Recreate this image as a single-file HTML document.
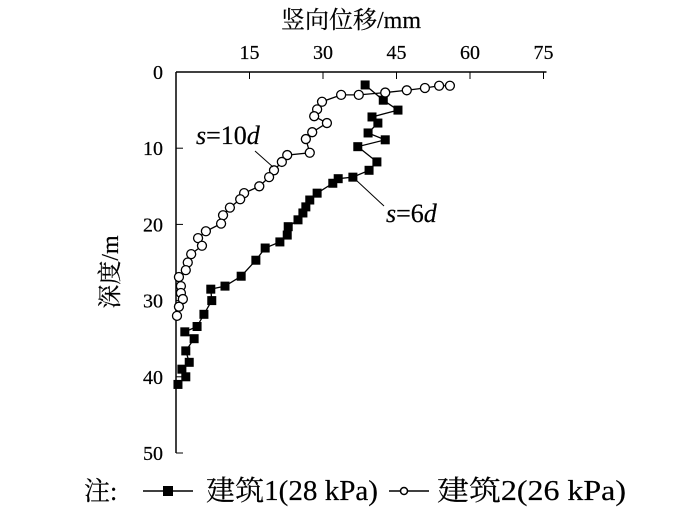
<!DOCTYPE html>
<html><head><meta charset="utf-8"><style>
html,body{margin:0;padding:0;background:#fff;}
svg{display:block;font-family:"Liberation Serif","Noto Serif CJK SC",serif;}
text{stroke:#000;stroke-width:0.2;}
</style></head><body>
<svg id="chart" width="700" height="507" viewBox="0 0 700 507">
<text x="351" y="28" text-anchor="middle" font-size="24">竖向位移/mm</text>
<text x="118" y="272" text-anchor="middle" font-size="24" transform="rotate(-90 118 272)">深度/m</text>
<g id="axes"></g>
<g id="series"></g>
<text x="196" y="144" font-size="26" font-style="italic">s<tspan font-style="normal">=10</tspan>d</text>
<line x1="255" y1="151" x2="273" y2="167" stroke="#000" stroke-width="1"/>
<text x="386" y="222" font-size="26" font-style="italic">s<tspan font-style="normal">=6</tspan>d</text>
<line x1="356" y1="180" x2="384" y2="206" stroke="#000" stroke-width="1"/>
<g>
<text x="84" y="500" font-size="26">注:</text>
<line x1="143" y1="491" x2="193" y2="491" stroke="#000" stroke-width="1.5"/>
<rect x="163" y="486" width="10" height="10" fill="#000"/>
<text x="206" y="500" font-size="28" textLength="172" lengthAdjust="spacingAndGlyphs">建筑1(28 kPa)</text>
<line x1="389" y1="491" x2="429" y2="491" stroke="#000" stroke-width="1.5"/>
<circle cx="404" cy="491" r="3.5" fill="#fff" stroke="#000" stroke-width="1.5"/>
<text x="437" y="500" font-size="28" textLength="189" lengthAdjust="spacingAndGlyphs">建筑2(26 kPa)</text>
</g>
</svg>
<script>
const xTicks=[0,15,30,45,60,75];
const yTicks=[0,10,20,30,40,50];
const b1X=[38.6,42.3,45.3,40,41.2,39.2,42.7,37.1,41,39.4,36.1,33.1,32,28.8,27.3,26.5,25.9,24.9,22.9,22.7,21.2,18.2,16.3,13.3,10,7.1,7.3,5.7,4.3,1.8,3.7,2,2.7,1.2,2,0.4];
const b1D=[1.7,3.7,5.0,5.9,6.7,8.0,8.9,9.8,11.8,12.9,13.8,14.0,14.6,15.9,16.8,17.7,18.5,19.4,20.3,21.4,22.3,23.1,24.7,26.8,28.1,28.5,30,31.8,33.4,34.1,35,36.6,38.1,39,40,41];
const b2X=[55.9,53.7,50.8,47.1,42.7,37.3,33.7,29.8,28.8,28.2,30.8,27.8,26.5,27.3,22.7,21.6,20,19,17,13.9,13.1,11,9.6,9.2,6.1,4.5,5.3,3.1,2.4,2,0.6,1,1,1.4,0.6,0.2];
const b2D=[1.8,1.8,2.1,2.4,2.7,3.0,3.0,3.9,4.9,5.8,6.7,7.9,8.8,10.6,10.9,11.8,12.9,13.8,15,15.9,16.7,17.8,18.8,19.9,20.9,21.8,22.8,23.9,25,26,26.9,28.1,29,29.8,30.8,32];
const NS="http://www.w3.org/2000/svg";
const X0=176,XW=4.9,Y0=72,YH=7.62;
function sx(v){return X0+v*XW;}
function sy(v){return Y0+v*YH;}
function mk(tag,attrs,parent){const e=document.createElementNS(NS,tag);for(const k in attrs)e.setAttribute(k,attrs[k]);parent.appendChild(e);return e;}
const axes=document.getElementById('axes');
let a=mk('line',{x1:X0,y1:Y0,x2:sx(75)+3,y2:Y0,stroke:'#000','stroke-width':1.5},axes);


a=mk('line',{x1:X0,y1:Y0,x2:X0,y2:sy(50),stroke:'#000','stroke-width':1.5},axes);


xTicks.forEach(v=>{
 if(v>0){const t=mk('line',{x1:sx(v),y1:Y0,x2:sx(v),y2:Y0+7,stroke:'#000','stroke-width':1},axes);
 
 
 const l=mk('text',{x:sx(v),y:59,'text-anchor':'middle','font-size':20},axes);l.textContent=v;
 
 }
});
yTicks.forEach(v=>{
 const t=mk('line',{x1:X0,y1:sy(v),x2:X0+7,y2:sy(v),stroke:'#000','stroke-width':1},axes);
 
 
 const l=mk('text',{x:163,y:sy(v)+7,'text-anchor':'end','font-size':20},axes);l.textContent=v;
 
 
});
const ser=document.getElementById('series');
function draw(X,D,name,sq){
 const pts=X.map((v,i)=>sx(v)+','+sy(D[i])).join(' ');
 const pl=mk('polyline',{points:pts,fill:'none',stroke:'#000','stroke-width':1.3},ser);
 
 
 X.forEach((v,i)=>{
  let m;
  if(sq) m=mk('rect',{x:sx(v)-4.5,y:sy(D[i])-4.5,width:9,height:9,fill:'#000'},ser);
  else m=mk('circle',{cx:sx(v),cy:sy(D[i]),r:4.5,fill:'#fff',stroke:'#000','stroke-width':1.3},ser);
  
  
 });
}
draw(b1X,b1D,'building1',true);
draw(b2X,b2D,'building2',false);
</script>
</body></html>
